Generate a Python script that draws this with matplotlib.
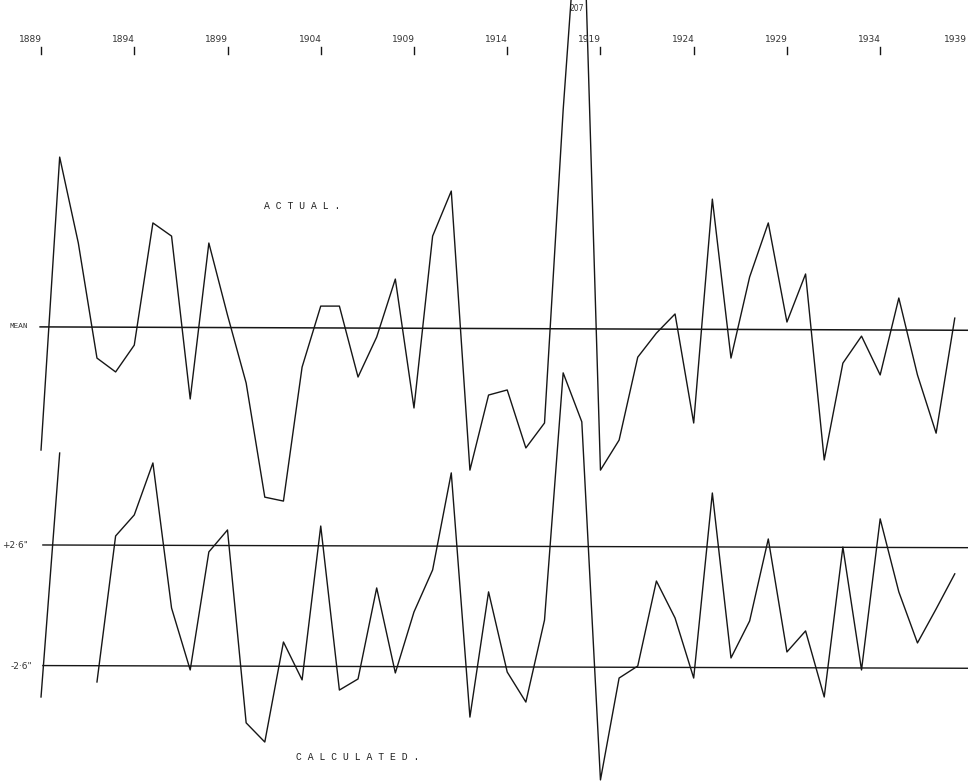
import numpy as np
import matplotlib
matplotlib.use("Agg")
import matplotlib.pyplot as plt

years = list(range(1889, 1939))

# departures from the mean, inches
actual = [-5.28, 7.40, 3.68, -1.30, -1.90, -0.74, 4.55, 3.98, -3.07, 3.68,
          0.56, -2.38, -7.32, -7.49, -1.69, 0.95, 0.95, -2.12, -0.39, 2.12,
          -3.46, 3.98, 5.93, -6.15, -2.90, -2.68, -5.19, -4.11, 9.44, 20.7,
          -6.15, -4.85, -1.26, -0.22, 0.61, -4.11, 5.58, -1.30, 2.21, 4.55,
          0.26, 2.34, -5.71, -1.52, -0.35, -2.03, 1.30, -2.03, -4.55, 0.43]

calculated = [-3.94, 6.62, np.nan, -3.29, 3.03, 3.94, 6.19, -0.09, -2.77, 2.34,
              3.29, -5.06, -5.89, -1.56, -3.20, 3.46, -3.64, -3.16, 0.78, -2.90,
              -0.26, 1.56, 5.76, -4.81, 0.61, -2.86, -4.16, -0.61, 10.09, 7.97,
              -7.53, -3.12, -2.60, 1.08, -0.52, -3.12, 4.89, -2.25, -0.65, 2.90,
              -1.99, -1.08, -3.94, 2.55, -2.77, 3.77, 0.61, -1.60, -0.13, 1.39]

tick_years = [1889, 1894, 1899, 1904, 1909, 1914, 1919, 1924, 1929, 1934, 1939]
tick_labels = ['1889', '1894', '1899', '1904', '1909', '1914', '1919', '1924', '1929', '1934', '1939']
band = 2.6
peak_note = '207'

calc_shift = -12.03  # calculated curve drawn lower on the sheet
ink = '#161616'

fig = plt.figure(figsize=(9.68, 7.82), dpi=100)
ax = fig.add_axes([0, 0, 1, 1])
ax.set_xlim(1886.80, 1938.71)
ax.set_ylim(-19.65, 14.20)
ax.axis('off')

# mean and +/- 2.6" lines
ax.plot([1888.95, 1940], [0.05, -0.1], color=ink, lw=1.1)
ax.plot([1889.1, 1940], [band + calc_shift + 0.04, band + calc_shift - 0.08], color=ink, lw=1.0)
ax.plot([1889.1, 1940], [-band + calc_shift + 0.02, -band + calc_shift - 0.1], color=ink, lw=1.0)

ax.plot(years, actual, color=ink, lw=1.0)
ax.plot(years, np.array(calculated) + calc_shift, color=ink, lw=1.0)

# year marks along the top
for yr, lab in zip(tick_years, tick_labels):
    ax.plot([yr, yr], [11.85, 12.15], color=ink, lw=1.0)
    if yr > 1938:
        # last one sits right at the paper edge
        ax.text(1938.65, 12.30, lab, ha='right', va='bottom', fontsize=6.5,
                family='DejaVu Sans', color='#333333')
        continue
    ax.text(yr + 0.05, 12.30, lab, ha='right', va='bottom', fontsize=6.5,
            family='DejaVu Sans', color='#333333')

ax.text(1917.75, 13.85, peak_note, ha='center', va='center', fontsize=5.5, color='#333333')

ax.text(1888.3, 0.05, 'MEAN', ha='right', va='center', fontsize=5.5,
        family='Liberation Mono', color='#333333')
ax.text(1888.3, band + calc_shift, '+2·6"', ha='right', va='center', fontsize=6.5,
        family='DejaVu Sans', color='#333333')
ax.text(1888.5, -band + calc_shift, '-2·6"', ha='right', va='center', fontsize=6.5,
        family='DejaVu Sans', color='#333333')

ax.text(1903.0, 5.30, 'A C T U A L .', ha='center', va='center', fontsize=7,
        family='Liberation Mono', color='#222222')
ax.text(1906.0, -18.55, 'C A L C U L A T E D .', ha='center', va='center', fontsize=7,
        family='Liberation Mono', color='#222222')

fig.savefig('out.png', dpi=100, facecolor='white')
